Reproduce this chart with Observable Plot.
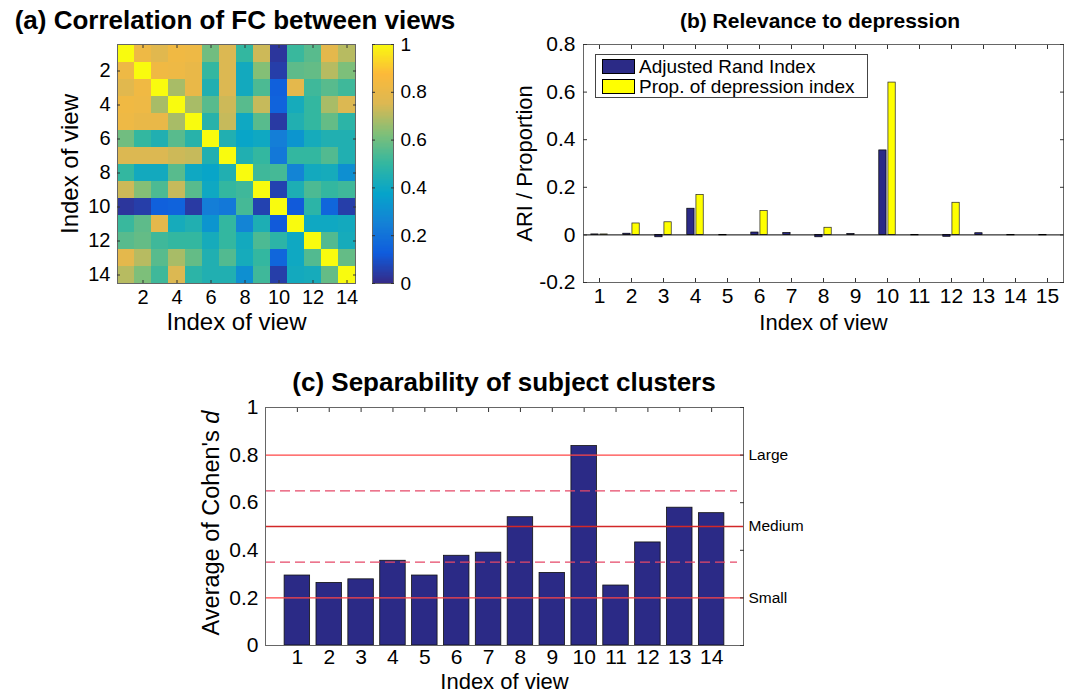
<!DOCTYPE html>
<html><head><meta charset="utf-8">
<script src="https://cdn.jsdelivr.net/npm/d3@7"></script>
<script src="https://cdn.jsdelivr.net/npm/@observablehq/plot@0.6"></script>
<style>
body{margin:0;background:#fff;font-family:"Liberation Sans",Arial,Helvetica,sans-serif;color:#000}
#root{position:relative;width:1070px;height:693px;overflow:hidden;background:#fff}
.abs{position:absolute}
.title{font-weight:bold;white-space:nowrap;transform:translate(-50%,-50%);line-height:1}
.ylab{white-space:nowrap;transform:translate(-50%,-50%) rotate(-90deg);line-height:1}
.legend{border:1px solid #444;background:#fff;font-size:19px;line-height:1;box-sizing:border-box}
.legend .row{display:flex;align-items:center;height:20px;margin-left:6px}
.legend .sw{width:33px;height:15px;border:1px solid #000;box-sizing:border-box;margin-right:4px}
</style></head>
<body><div id="root"></div>
<script>
// ---------- data ----------
const viewsA = [1,2,3,4,5,6,7,8,9,10,11,12,13,14];
const corrRows = [
  [1.00,0.82,0.77,0.83,0.82,0.60,0.75,0.50,0.73,0.03,0.51,0.56,0.78,0.70],
  [0.82,1.00,0.83,0.82,0.80,0.50,0.75,0.41,0.63,0.05,0.57,0.58,0.70,0.62],
  [0.77,0.83,1.00,0.68,0.80,0.45,0.75,0.41,0.54,0.14,0.78,0.52,0.56,0.52],
  [0.83,0.82,0.68,1.00,0.68,0.56,0.73,0.56,0.72,0.15,0.42,0.50,0.68,0.75],
  [0.82,0.80,0.80,0.68,1.00,0.47,0.72,0.40,0.56,0.04,0.45,0.50,0.58,0.48],
  [0.60,0.50,0.45,0.56,0.47,1.00,0.45,0.38,0.40,0.24,0.32,0.42,0.45,0.45],
  [0.75,0.75,0.75,0.73,0.72,0.45,1.00,0.45,0.50,0.22,0.50,0.50,0.55,0.45],
  [0.50,0.41,0.41,0.56,0.40,0.38,0.45,1.00,0.52,0.53,0.26,0.41,0.42,0.30],
  [0.73,0.63,0.54,0.72,0.56,0.40,0.50,0.52,1.00,0.06,0.44,0.54,0.50,0.52],
  [0.03,0.05,0.14,0.15,0.04,0.24,0.22,0.53,0.06,1.00,0.12,0.48,0.16,0.05],
  [0.51,0.57,0.78,0.42,0.45,0.32,0.50,0.26,0.44,0.12,1.00,0.40,0.40,0.41],
  [0.56,0.58,0.52,0.50,0.50,0.42,0.50,0.41,0.54,0.48,0.40,1.00,0.55,0.42],
  [0.78,0.70,0.56,0.68,0.58,0.45,0.55,0.42,0.50,0.16,0.40,0.55,1.00,0.58],
  [0.70,0.62,0.52,0.75,0.48,0.45,0.45,0.30,0.52,0.05,0.41,0.42,0.58,1.00]
];
const ticksA = [2,4,6,8,10,12,14];
const colorbarTicks = [0,0.2,0.4,0.6,0.8,1];

const viewsB = [1,2,3,4,5,6,7,8,9,10,11,12,13,14,15];
const ariValues  = [0.002,0.005,-0.010,0.110,-0.002,0.010,0.008,-0.010,0.004,0.355,-0.002,-0.008,0.007,-0.002,-0.002];
const propValues = [0.002,0.048,0.053,0.168,0.000,0.100,0.000,0.030,0.000,0.640,0.000,0.135,0.000,0.000,0.000];
const ticksBy = [-0.2,0,0.2,0.4,0.6,0.8];
const seriesNames = ["Adjusted Rand Index","Prop. of depression index"];

const viewsC = [1,2,3,4,5,6,7,8,9,10,11,12,13,14];
const cohenD = [0.294,0.263,0.278,0.356,0.294,0.377,0.390,0.539,0.305,0.838,0.252,0.433,0.579,0.556];
const ticksCy = [0,0.2,0.4,0.6,0.8,1];
const effectThresholds = [0.2,0.5,0.8];
const effectLabels = ["Small","Medium","Large"];
const midThresholds = [0.35,0.65];

// parula-like colormap
const parulaStops = [0,0.125,0.25,0.375,0.5,0.625,0.75,0.875,1];
const parulaColors = ["#352a87","#0f5cdd","#1481d6","#06a4ca","#33b7a0","#80bf78","#dcb852","#fcb93a","#f9fb0e"];

const FONT = '"Liberation Sans", Arial, Helvetica, sans-serif';
const NAVY = "#2b2a86";
const root = document.getElementById("root");
function place(el, left, top){ el.style.position="absolute"; el.style.left=left+"px"; el.style.top=top+"px"; root.appendChild(el); return el; }
function div(cls, html, left, top, size){ const d=document.createElement("div"); d.className="abs "+cls; d.innerHTML=html; d.style.left=left+"px"; d.style.top=top+"px"; if(size) d.style.fontSize=size+"px"; root.appendChild(d); return d; }
const fmt = d => String(d);
const style = fs => ({background:"none", fontFamily: FONT, fontSize: fs+"px", color:"#000", overflow:"visible"});
const colorOpts = {type:"linear", domain: parulaStops, range: parulaColors, interpolate:"rgb", clamp:true};
// inward ticks + labels (label offset = tickSize + tickPadding)
const TK = 4;
const tickOnly = {tickSize:-TK, fill:"none", label:null, stroke:"#333"};

// ---------- (a) heatmap ----------
const cells = [];
corrRows.forEach((row,i)=>row.forEach((v,j)=>cells.push({row:viewsA[i], col:viewsA[j], v})));
const plotA = Plot.plot({
  width:470, height:340, marginLeft:117, marginRight:115, marginTop:44, marginBottom:57,
  style: style(20),
  x:{type:"band", domain:viewsA, padding:0, axis:null, label:null},
  y:{type:"band", domain:viewsA, padding:0, axis:null, label:null},
  color: colorOpts,
  marks:[
    Plot.cell(cells, {x:"col", y:"row", fill:"v", shapeRendering:"crispEdges"}),
    Plot.frame({stroke:"#666"}),
    Plot.axisX(ticksA, {anchor:"bottom", tickSize:-3, tickPadding:9, tickFormat:fmt, label:null, stroke:"#333"}),
    Plot.axisY(ticksA, {anchor:"left", tickSize:-3, tickPadding:10, tickFormat:fmt, label:null, stroke:"#333"}),
    Plot.axisX(ticksA, {...tickOnly, tickSize:-3, anchor:"top"}),
    Plot.axisY(ticksA, {...tickOnly, tickSize:-3, anchor:"right"}),
    Plot.text(["Index of view"], {text:d=>d, frameAnchor:"bottom", lineAnchor:"middle", dy:39, fontSize:24}),
    Plot.text(["Index of view"], {text:d=>d, frameAnchor:"left", textAnchor:"middle", lineAnchor:"middle", dx:-47, rotate:-90, fontSize:24})
  ]
});
place(plotA, 0, 0);

// colorbar
const cbSteps = d3.range(0, 1, 0.005);
const plotCB = Plot.plot({
  width:110, height:340, marginLeft:12, marginRight:77, marginTop:44, marginBottom:57,
  style: style(19),
  x:{domain:[0,1], axis:null},
  y:{domain:[0,1], axis:null},
  color: colorOpts,
  marks:[
    Plot.rect(cbSteps, {x1:0, x2:1, y1:d=>d, y2:d=>d+0.006, fill:d=>d+0.0025, shapeRendering:"crispEdges"}),
    Plot.frame({stroke:"#666"}),
    Plot.axisY(colorbarTicks, {anchor:"right", tickSize:-3, tickPadding:10, tickFormat:fmt, label:null, stroke:"#333"}),
    Plot.axisY(colorbarTicks, {...tickOnly, tickSize:-3, anchor:"left"})
  ]
});
place(plotCB, 360, 0);

// ---------- (b) grouped bars ----------
const barsB = viewsB.map((v,i)=>({v, ari:ariValues[i], prop:propValues[i]}));
const plotB = Plot.plot({
  width:600, height:340, marginLeft:113, marginRight:7, marginTop:44, marginBottom:58,
  style: style(21),
  x:{domain:[0.5,15.5], axis:null},
  y:{domain:[-0.2,0.8], axis:null},
  marks:[
    Plot.rect(barsB, {x1:d=>d.v-0.257, x2:d=>d.v-0.029, y1:0, y2:"ari", fill:NAVY, stroke:"#000", strokeWidth:0.7}),
    Plot.rect(barsB, {x1:d=>d.v+0.029, x2:d=>d.v+0.257, y1:0, y2:"prop", fill:"#ffff00", stroke:"#222", strokeWidth:0.7}),
    Plot.ruleY([0], {stroke:"#000", strokeWidth:1}),
    Plot.frame({stroke:"#666"}),
    Plot.axisX(viewsB, {anchor:"bottom", tickSize:-TK, tickPadding:TK+6, tickFormat:fmt, label:null, stroke:"#333"}),
    Plot.axisY(ticksBy, {anchor:"left", tickSize:-TK, tickPadding:TK+8, tickFormat:fmt, label:null, stroke:"#333"}),
    Plot.axisX(viewsB, {...tickOnly, anchor:"top"}),
    Plot.axisY(ticksBy, {...tickOnly, anchor:"right"}),
    Plot.text(["Index of view"], {text:d=>d, frameAnchor:"bottom", lineAnchor:"middle", dy:40, fontSize:22}),
    Plot.text(["ARI / Proportion"], {text:d=>d, frameAnchor:"left", textAnchor:"middle", lineAnchor:"middle", dx:-59, rotate:-90, fontSize:22})
  ]
});
place(plotB, 470, 0);

// legend (b)
const leg = div("legend", "", 595, 54);
leg.style.width = "273px"; leg.style.height = "44px"; leg.style.paddingTop = "1px";
[[NAVY, seriesNames[0]], ["#ffff00", seriesNames[1]]].forEach(([c, name])=>{
  const r = document.createElement("div"); r.className="row";
  r.innerHTML = `<span class="sw" style="background:${c}"></span><span>${name}</span>`;
  leg.appendChild(r);
});

// ---------- (c) bars with thresholds ----------
const barsC = viewsC.map((v,i)=>({v, d:cohenD[i]}));
const plotC = Plot.plot({
  width:640, height:353, marginLeft:95, marginRight:67, marginTop:67, marginBottom:48,
  style: style(20),
  x:{domain:[0,15], axis:null},
  y:{domain:[0,1], axis:null},
  marks:[
    Plot.rect(barsC, {x1:d=>d.v-0.4, x2:d=>d.v+0.4, y1:0, y2:"d", fill:NAVY, stroke:"#111", strokeWidth:0.8}),
    Plot.ruleY([effectThresholds[0], effectThresholds[2]], {stroke:"#ff4646", strokeWidth:1.3}),
    Plot.ruleY([effectThresholds[1]], {stroke:"#d22828", strokeWidth:1.3}),
    Plot.ruleY(midThresholds, {stroke:"#e64868", strokeWidth:1.3, strokeDasharray:"10,5", insetRight:6}),
    Plot.frame({stroke:"#666"}),
    Plot.axisX(viewsC, {anchor:"bottom", tickSize:0, tickPadding:4, tickFormat:fmt, label:null, fontSize:21}),
    Plot.axisY(ticksCy, {anchor:"left", tickSize:0, tickPadding:7, tickFormat:fmt, label:null, fontSize:21}),
    Plot.axisX(viewsC, {...tickOnly, anchor:"top"}),
    Plot.axisY(ticksCy, {...tickOnly, anchor:"right"}),
    Plot.text(effectThresholds, {y:d=>d, text:(d,i)=>effectLabels[i], frameAnchor:"right", textAnchor:"start", dx:5, fontSize:15.5}),
    Plot.text(["Index of view"], {text:d=>d, frameAnchor:"bottom", lineAnchor:"middle", dy:36, fontSize:22})
  ]
});
place(plotC, 170, 340);

// ---------- titles & html labels ----------
div("title", "(a) Correlation of FC between views", 235, 20, 26);
div("title", "(b) Relevance to depression", 820, 20, 21);
div("title", "(c) Separability of subject clusters", 504, 382, 26);
div("ylab", "Average of Cohen's <i>d</i>", 212, 523, 23.5);
</script>
</body></html>
